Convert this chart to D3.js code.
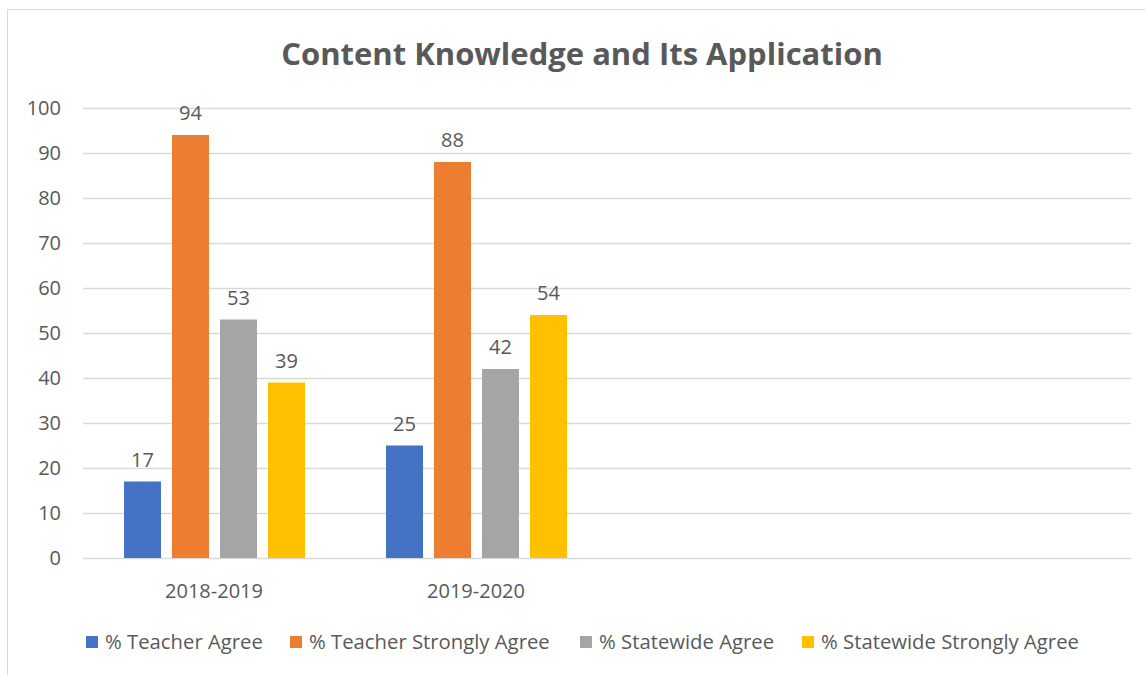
<!DOCTYPE html>
<html>
<head>
<meta charset="utf-8">
<title>Content Knowledge and Its Application</title>
<script src="https://d3js.org/d3.v7.min.js"></script>
<style>
  body { margin: 0; background: #fff; }
  text { font-family: "Open Sans", "Noto Sans", sans-serif; fill: #595959; }
</style>
</head>
<body>
<script>
var categories = ["2018-2019", "2019-2020", "", " "];
var seriesNames = ["% Teacher Agree", "% Teacher Strongly Agree", "% Statewide Agree", "% Statewide Strongly Agree"];
var teacherAgree = [17, 25];
var teacherStrong = [94, 88];
var stateAgree = [53, 42];
var stateStrong = [39, 54];
var colors = ["#4472c4", "#ed7d31", "#a5a5a5", "#ffc000"];
var yTicks = [0, 10, 20, 30, 40, 50, 60, 70, 80, 90, 100];

var allSeries = [teacherAgree, teacherStrong, stateAgree, stateStrong];

var W = 1145, H = 675;
var svg = d3.select("body").append("svg").attr("width", W).attr("height", H);

svg.append("rect").attr("x", 7.5).attr("y", 9.5).attr("width", W + 10).attr("height", H + 10)
  .attr("fill", "none").attr("stroke", "#d9d9d9");

var plotL = 83, plotR = 1131, plotT = 108, plotB = 558;

var x = d3.scaleBand().domain(categories).range([plotL, plotR]).paddingInner(0).paddingOuter(0);
var x1 = d3.scaleBand().domain(d3.range(seriesNames.length)).range([41, 41 + 4 * 48 - 11]).paddingInner(11 / 48).paddingOuter(0);
var y = d3.scaleLinear().domain([0, 100]).range([plotB, plotT]);

svg.append("text").attr("x", 582).attr("y", 65).attr("text-anchor", "middle")
  .style("font-size", "31px").style("font-weight", "bold").text("Content Knowledge and Its Application");

var grid = svg.append("g");
grid.selectAll("line").data(yTicks).enter().append("line")
  .attr("x1", plotL).attr("x2", plotR)
  .attr("y1", function (d) { return y(d) + 0.5; }).attr("y2", function (d) { return y(d) + 0.5; })
  .attr("stroke", "#d9d9d9").attr("stroke-width", 1.3);

svg.selectAll(".ylab").data(yTicks).enter().append("text")
  .attr("x", 61).attr("y", function (d) { return y(d) + 7; })
  .attr("text-anchor", "end").style("font-size", "20px").text(function (d) { return d; });

svg.selectAll(".xlab").data(categories).enter().append("text")
  .attr("x", function (d) { return x(d) + x.bandwidth() / 2; }).attr("y", 598)
  .attr("text-anchor", "middle").style("font-size", "20px").text(function (d) { return d; });

allSeries.forEach(function (vals, s) {
  var g = svg.append("g");
  g.selectAll("rect").data(vals).enter().append("rect")
    .attr("x", function (d, i) { return x(categories[i]) + x1(s); })
    .attr("width", x1.bandwidth())
    .attr("y", function (d) { return y(d); })
    .attr("height", function (d) { return y(0) - y(d); })
    .attr("fill", colors[s]);
  g.selectAll("text").data(vals).enter().append("text")
    .attr("x", function (d, i) { return x(categories[i]) + x1(s) + x1.bandwidth() / 2; })
    .attr("y", function (d) { return y(d) - 15; })
    .attr("text-anchor", "middle").style("font-size", "20px").text(function (d) { return d; });
});

var legendX = [86, 290, 580, 802];
var legend = svg.selectAll(".leg").data(seriesNames).enter().append("g")
  .attr("transform", function (d, i) { return "translate(" + legendX[i] + ",636)"; });
legend.append("rect").attr("width", 12).attr("height", 12).attr("fill", function (d, i) { return colors[i]; });
legend.append("text").attr("x", 19).attr("y", 13).style("font-size", "20.3px").text(function (d) { return d; });
</script>
</body>
</html>
